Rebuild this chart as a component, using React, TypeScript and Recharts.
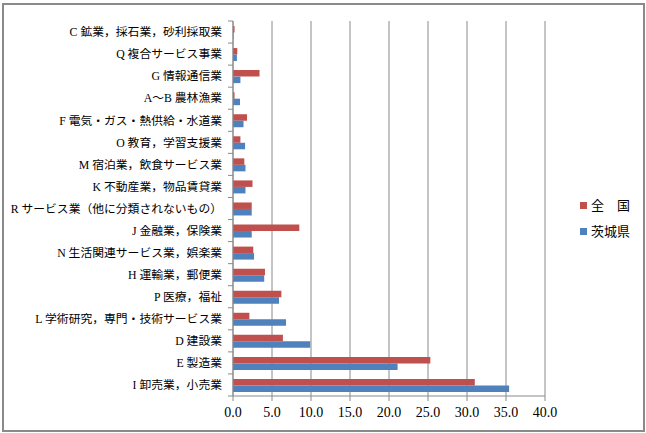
import * as React from "react";
import { BarChart, Bar, XAxis, YAxis, CartesianGrid } from "recharts";

// categories, top to bottom as drawn
const categories = [
  "C 鉱業，採石業，砂利採取業",
  "Q 複合サービス事業",
  "G 情報通信業",
  "A～B 農林漁業",
  "F 電気・ガス・熱供給・水道業",
  "O 教育，学習支援業",
  "M 宿泊業，飲食サービス業",
  "K 不動産業，物品賃貸業",
  "R サービス業（他に分類されないもの）",
  "J 金融業，保険業",
  "N 生活関連サービス業，娯楽業",
  "H 運輸業，郵便業",
  "P 医療，福祉",
  "L 学術研究，専門・技術サービス業",
  "D 建設業",
  "E 製造業",
  "I 卸売業，小売業",
];

const zenkoku = [0.2, 0.55, 3.4, 0.2, 1.8, 0.95, 1.45, 2.5, 2.4, 8.5, 2.6, 4.1, 6.2, 2.1, 6.4, 25.3, 31.0];
const ibaraki = [0.05, 0.5, 0.95, 0.9, 1.35, 1.55, 1.6, 1.6, 2.4, 2.4, 2.7, 4.0, 5.9, 6.8, 9.9, 21.1, 35.4];

const xTicks = [0, 5, 10, 15, 20, 25, 30, 35, 40];

const seriesNames = ["全　国", "茨城県"];
const seriesColors = ["#C0504D", "#4F81BD"];

const data = categories.map((name, i) => ({
  name,
  zenkoku: zenkoku[i],
  ibaraki: ibaraki[i],
}));

const GRAY = "#8a8a8a";
const TICK_SIZE = 5;
const TICK_MARGIN = 6;

function CategoryTick(props: any) {
  const { x, y, payload, index } = props;
  const half = payload && payload.offset ? payload.offset : 11;
  const axisX = x + TICK_SIZE + TICK_MARGIN;
  const last = index === categories.length - 1;
  return (
    <g>
      <line x1={axisX - TICK_SIZE} x2={axisX} y1={y - half} y2={y - half} stroke={GRAY} />
      {last && <line x1={axisX - TICK_SIZE} x2={axisX} y1={y + half} y2={y + half} stroke={GRAY} />}
      <text
        x={x}
        y={y}
        dy="0.36em"
        textAnchor="end"
        fontSize={11.8}
        fill="#000"
        fontFamily="'Liberation Serif', 'Noto Sans CJK JP', serif"
      >
        {payload.value}
      </text>
    </g>
  );
}

export default function App() {
  return (
    <div style={{ position: "absolute", left: 0, top: 0, width: 646, height: 433, background: "#fff" }}>
      <div
        style={{
          position: "absolute",
          left: 2,
          top: 3,
          width: 639,
          height: 425,
          border: `2px solid ${GRAY}`,
        }}
      />
      <BarChart
        width={646}
        height={433}
        data={data}
        layout="vertical"
        margin={{ top: 21, right: 101, bottom: 7, left: 0 }}
        barGap={0}
        barSize={6.5}
        style={{ position: "absolute", left: 0, top: 0 }}
      >
        <CartesianGrid horizontal={false} stroke={GRAY} />
        <XAxis
          type="number"
          domain={[0, 40]}
          ticks={xTicks}
          height={30}
          tickFormatter={(v: number) => v.toFixed(1)}
          stroke={GRAY}
          tickSize={5}
          tickMargin={6}
          tick={{ fill: "#000", fontSize: 14, fontFamily: "'Liberation Serif', serif" }}
        />
        <YAxis
          type="category"
          dataKey="name"
          width={233}
          stroke={GRAY}
          tickLine={false}
          tickSize={TICK_SIZE}
          tickMargin={TICK_MARGIN}
          interval={0}
          tick={<CategoryTick />}
        />
        <Bar dataKey="zenkoku" name={seriesNames[0]} fill={seriesColors[0]} isAnimationActive={false} />
        <Bar dataKey="ibaraki" name={seriesNames[1]} fill={seriesColors[1]} isAnimationActive={false} />
      </BarChart>
      <div
        style={{
          position: "absolute",
          left: 580,
          top: 196,
          fontFamily: "'Noto Sans CJK JP', sans-serif",
          fontSize: 13,
          lineHeight: "26px",
          color: "#000",
        }}
      >
        {seriesNames.map((n, i) => (
          <div key={n} style={{ display: "flex", alignItems: "center", height: 26, marginTop: i === 0 ? -4 : 0 }}>
            <span style={{ display: "inline-block", width: 7, height: 7, background: seriesColors[i], marginRight: 4 }} />
            <span>{n}</span>
          </div>
        ))}
      </div>
    </div>
  );
}
